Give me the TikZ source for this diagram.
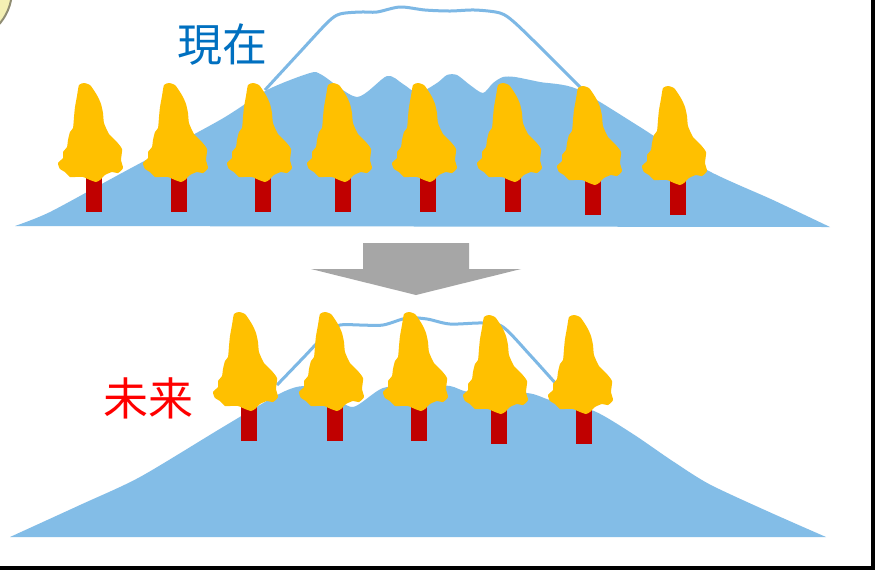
\documentclass[tikz,border=0pt]{standalone}
\usepackage{fontspec}
\newfontfamily\jpfont{Noto Sans CJK JP}

\definecolor{ciel}{HTML}{83BDE7}
\definecolor{bordneige}{HTML}{7DB8E5}
\definecolor{jaune}{HTML}{FFC000}
\definecolor{rougetronc}{HTML}{C00000}
\definecolor{gris}{HTML}{A6A6A6}
\definecolor{bleutexte}{HTML}{0070C0}
\definecolor{pastille}{HTML}{F4F0B4}

\tikzset{
  montagne/.style={fill=ciel},
  neige/.style={draw=bordneige, line width=1.5pt},
  tronc/.style={fill=rougetronc},
  feuillage/.style={fill=jaune},
  etiquette/.style={font=\jpfont\fontsize{22.5}{27}\selectfont},
  % Arbre : feuillage + tronc, origine au sommet du feuillage
  arbre/.pic={
    \fill[tronc] (-8,85) rectangle (8,129);
    \fill[feuillage] plot[smooth cycle, tension=0.35] coordinates {
      (-15,2) (-10,0) (-4,2) (1,9) (4,14) (7,21) (9,30) (10,40) (15,51)
      (22,58) (28,66) (27,77) (29,85) (24,90) (18,89) (11,92) (6,97)
      (2,99) (-4,97) (-11,94) (-19,94) (-24,94) (-29,89) (-34,86)
      (-36,80) (-31,75) (-31,69) (-27,64) (-26,57) (-24,49) (-21,45)
      (-20,34) (-19,24) (-17,13)};
  }
}

\begin{document}
\begin{tikzpicture}[x=0.5pt, y=-0.5pt]
    \useasboundingbox (0,0) rectangle (875,570);
    \fill[white] (0,0) rectangle (875,570);

    % Pastille dans le coin
    \draw[draw=gray!80!olive, line width=1pt, fill=pastille] (-40,-10) circle[radius=52];

    % Montagne du haut : contour de la neige puis la pente
    \draw[neige] plot[smooth, tension=0.5] coordinates {
      (265,90) (300,52) (328,22) (340,14) (360,12) (377,12) (400,7)
      (425,10) (450,11) (475,10) (500,13) (514,22) (540,47) (560,67) (583,90)};
    \fill[montagne] plot[smooth, tension=0.45] coordinates {
      (15,226) (50,212) (120,174) (220,120) (267,90) (310,73) (322,75)
      (357,97) (387,76) (403,84) (418,93) (437,83) (447,75) (457,75)
      (470,85) (483,93) (493,83) (503,77) (515,77) (540,82) (577,89)
      (640,127) (707,170) (773,200) (830,227)} -- cycle;

    % Arbres actuels
    \foreach \cx/\cy in {94/83, 179/83, 263/83, 343/83, 428/83, 513/83, 593/86, 678/86}
      \pic at (\cx,\cy) {arbre};

    \node[etiquette, text=bleutexte] (present) at (222,45) {現在};

    % Fleche vers le bas
    \fill[gris] (363,243) -- (469,243) -- (469,269) -- (521,269)
      -- (416,295) -- (311,269) -- (363,269) -- cycle;

    % Montagne du bas
    \draw[neige] plot[smooth, tension=0.5] coordinates {
      (277,385) (303,358) (327,333) (340,325) (360,325) (383,325) (407,318)
      (427,319) (450,324) (483,323) (503,327) (530,355) (557,385)};
    \fill[montagne] plot[smooth, tension=0.45] coordinates {
      (10,537) (80,505) (140,477) (223,427) (281,393) (305,386) (330,394)
      (353,407) (383,388) (420,385) (450,386) (470,392) (527,393) (550,400)
      (594,411) (633,434) (671,460) (709,484) (767,511) (826,537)} -- cycle;

    % Arbres futurs
    \foreach \cx/\cy in {249/312, 335/312, 419/312, 499/315, 584/315}
      \pic at (\cx,\cy) {arbre};

    \node[etiquette, text=red] (futur) at (149,398) {未来};

    % Bords
    \fill[black] (871,0) rectangle (875,570);
    \fill[black] (0,566) rectangle (875,570);
\end{tikzpicture}
\end{document}
